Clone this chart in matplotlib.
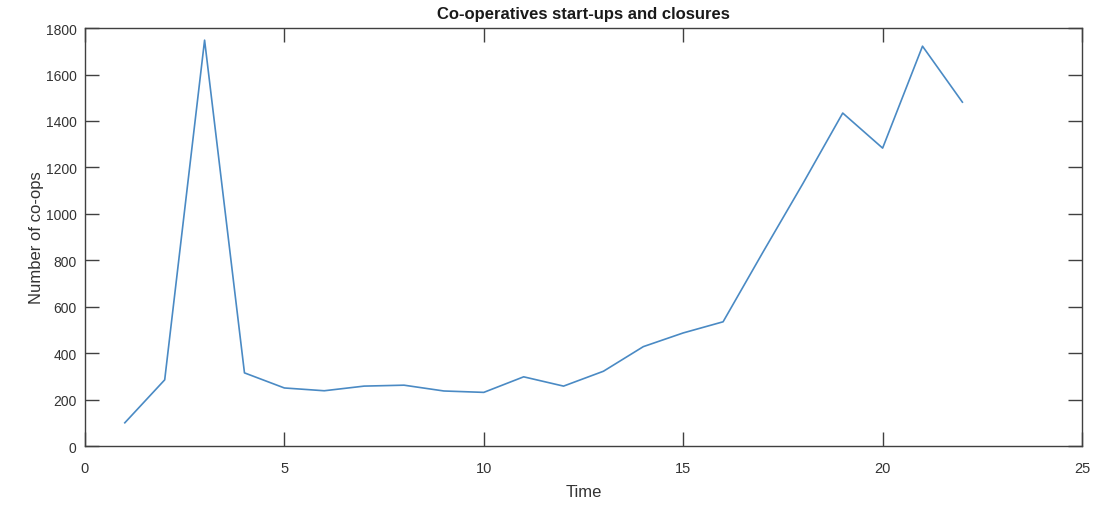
import numpy as np
import matplotlib
matplotlib.use('Agg')
import matplotlib.pyplot as plt

plt.rcParams['font.family'] = ['Liberation Sans', 'DejaVu Sans']

# data
time = [1, 2, 3, 4, 5, 6, 7, 8, 9, 10, 11, 12, 13, 14, 15, 16, 17, 18, 19, 20, 21, 22]
coops = [100, 285, 1748, 315, 250, 238, 258, 262, 237, 231, 298, 258, 322, 428, 487, 535, 835, 1130, 1434, 1283, 1722, 1481]

x_ticks = [0, 5, 10, 15, 20, 25]
y_ticks = [0, 200, 400, 600, 800, 1000, 1200, 1400, 1600, 1800]

fig = plt.figure(figsize=(11.03, 5.10), dpi=100)
ax = fig.add_axes([0.077, 0.1235, 0.904, 0.8195])

ax.plot(time, coops, color='#4a8ac4', linewidth=1.2)

ax.set_xlim(0, 25)
ax.set_ylim(0, 1800)
ax.set_xticks(x_ticks)
ax.set_yticks(y_ticks)

for s in ax.spines.values():
    s.set_color('#404040')
    s.set_linewidth(1.0)

ax.tick_params(direction='in', length=10, width=1, colors='#404040',
               labelcolor='#333333', labelsize=10.5, top=True, right=True)
ax.tick_params(axis='x', pad=11)
ax.tick_params(axis='y', pad=6, labelsize=10)

ax.set_xlabel('Time', fontsize=12, color='#333333', labelpad=6)
ax.set_ylabel('Number of co-ops', fontsize=12, color='#333333')
ax.yaxis.set_label_coords(-0.041, 0.5)
ax.set_title('Co-operatives start-ups and closures', fontsize=12, fontweight='bold',
             color='#1a1a1a', pad=7)

fig.savefig('out.png', dpi=100)
